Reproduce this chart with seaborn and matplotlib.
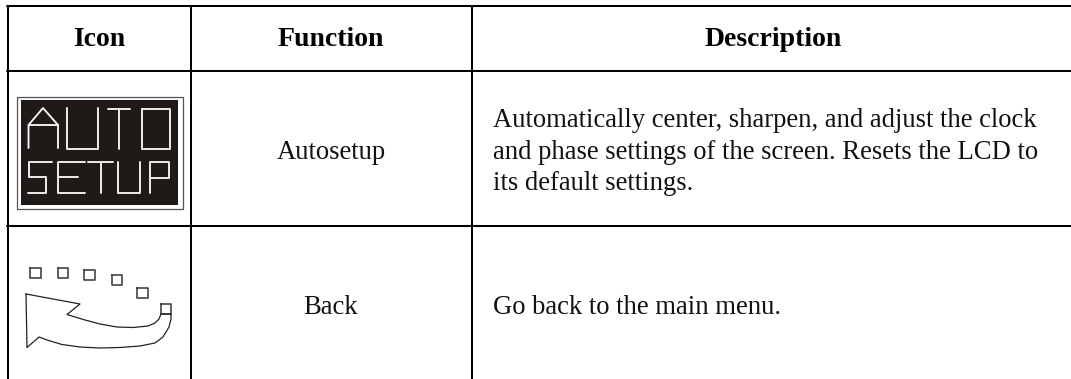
import matplotlib
matplotlib.use("Agg")
import matplotlib.pyplot as plt
import seaborn as sns

sns.set_theme(style="white")
plt.rcParams['font.family'] = ['Liberation Serif', 'DejaVu Serif']

# table text
headers = ["Icon", "Function", "Description"]
functions = ["Autosetup", "Back"]
auto_desc = ["Automatically center, sharpen, and adjust the clock",
             "and phase settings of the screen. Resets the LCD to",
             "its default settings."]
back_desc = ["Go back to the main menu."]

# table rules, in image pixels
col_rules = [7.5, 191, 472]
row_rules = [6, 70.5, 225.5]

# AUTO SETUP glyph strokes (pixels)
auto_setup_strokes = [
    [(28.5, 148), (28.5, 125), (43, 108), (58, 125), (58, 148)],
    [(28.5, 125), (58, 125)],
    [(67, 108), (67, 149), (98, 149), (98, 108)],
    [(108, 109), (130, 109)],
    [(119, 109), (119, 149)],
    [(142, 109), (170, 109), (170, 149), (142, 149), (142, 109)],
    [(52, 162), (29, 162), (29, 177), (46, 177), (46, 193), (28, 193)],
    [(85, 162), (58, 162), (58, 193), (85, 193)],
    [(58, 177), (78, 177)],
    [(88, 162), (113, 162)],
    [(101, 162), (101, 193)],
    [(118, 162), (118, 193), (140, 193), (140, 162)],
    [(150, 193), (150, 162), (169, 162), (169, 178), (150, 178)],
]

# Back icon: small squares as left, top, right, bottom
back_squares = [
    (29.5, 268, 40.5, 278),
    (57.5, 268, 68, 278),
    (84, 269.5, 94.5, 279.5),
    (112, 275, 122, 284.5),
    (137, 287.5, 147.5, 297.5),
    (161, 304, 171, 314),
]
back_arrow_x = [26, 80, 67, 85, 100, 117, 133, 148, 155, 159, 161, 171, 171, 169, 163, 155,
                140, 120, 100, 80, 62, 47, 39, 27, 26]
back_arrow_y = [294, 304, 314.5, 320, 324, 327, 327.5, 326, 323, 319, 314, 314, 319, 327, 337, 343,
                346, 347.5, 348, 347, 344.5, 340, 337, 347.5, 294]

fig, ax = plt.subplots(figsize=(10.71, 3.79), dpi=100)
fig.subplots_adjust(0, 0, 1, 1)

def stroke(xs, ys, color="black", lw=1.45):
    sns.lineplot(x=xs, y=ys, sort=False, estimator=None, color=color, linewidth=lw,
                 ax=ax, legend=False)

# table grid
for y in row_rules:
    stroke([7, 1071], [y, y])
for x in col_rules:
    stroke([x, x], [6, 379])

# Autosetup icon
stroke([16.5, 183, 183, 16.5, 16.5], [96.5, 96.5, 209, 209, 96.5], color="#555555", lw=0.9)
ax.fill([21, 178, 178, 21], [100, 100, 205, 205], color="#1f1a17", lw=0)
for s in auto_setup_strokes:
    stroke([p[0] for p in s], [p[1] for p in s], color="#f4f4f4", lw=1.35)

# Back icon
for l, t, r, b in back_squares:
    stroke([l, r, r, l, l], [t, t, b, b, t], color="#444444", lw=1.2)
stroke(back_arrow_x, back_arrow_y, color="#222222", lw=0.9)

ax.set_xlim(0, 1071)
ax.set_ylim(379, 0)
ax.axis("off")

# header and cell text
header_x = [99, 331, 773.5]
for name, x in zip(headers, header_x):
    ax.text(x, 45.5, name, ha="center", va="baseline", fontsize=20, fontweight="bold", color="black")
ax.text(331, 159, functions[0], ha="center", va="baseline", fontsize=19.2, color="#111111")
ax.text(331, 314, functions[1], ha="center", va="baseline", fontsize=19.2, color="#111111")
for line, y in zip(auto_desc, [127, 159, 190.5]):
    ax.text(493, y, line, ha="left", va="baseline", fontsize=19.2, color="#111111")
ax.text(493, 314, back_desc[0], ha="left", va="baseline", fontsize=19.2, color="#111111")

fig.savefig("out.png", dpi=100)
